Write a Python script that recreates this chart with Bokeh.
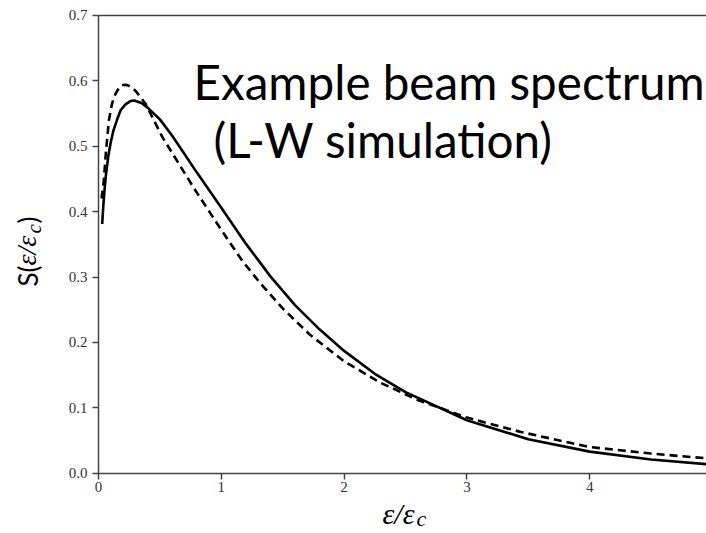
from bokeh.plotting import figure
from bokeh.models import Range1d, FixedTicker, PrintfTickFormatter, Label, LinearAxis
from bokeh.embed import file_html
from bokeh.resources import INLINE
import math

# ---- data ----
solid_x = [0.03, 0.04, 0.05, 0.06, 0.08, 0.10, 0.12, 0.15, 0.18, 0.22, 0.26, 0.29, 0.35,
           0.40, 0.50, 0.60, 0.70, 0.80, 0.90, 1.00, 1.20, 1.40, 1.60, 1.80, 2.00,
           2.25, 2.50, 3.00, 3.50, 4.00, 4.50, 5.00]
solid_y = [0.381, 0.411, 0.435, 0.455, 0.485, 0.506, 0.523, 0.540, 0.555, 0.564, 0.569, 0.570, 0.566,
           0.559, 0.541, 0.516, 0.488, 0.460, 0.433, 0.406, 0.351, 0.301, 0.257, 0.220, 0.187,
           0.152, 0.124, 0.081, 0.052, 0.033, 0.021, 0.013]

dash_x = [0.025, 0.035, 0.043, 0.06, 0.084, 0.11, 0.138, 0.17, 0.19, 0.214, 0.24, 0.27, 0.30,
          0.383, 0.52, 0.78, 1.00, 1.17, 1.32, 1.50, 1.72, 2.00, 2.30, 2.60, 3.00, 3.44,
          4.00, 4.50, 5.00]
dash_y = [0.420, 0.436, 0.447, 0.490, 0.539, 0.565, 0.580, 0.590, 0.593, 0.594, 0.593, 0.590, 0.585,
          0.565, 0.514, 0.435, 0.372, 0.325, 0.290, 0.252, 0.212, 0.171, 0.138, 0.112, 0.085, 0.063,
          0.040, 0.030, 0.022]

y_ticks = [0.0, 0.1, 0.2, 0.3, 0.4, 0.5, 0.6, 0.7]
x_ticks = [0, 1, 2, 3, 4]
x_max = 5.0
y_max = 0.7

title_line1 = "Example beam spectrum"
title_line2 = "(L-W simulation)"

# ---- pixel <-> data mapping (frame covers the whole canvas) ----
W, H = 706, 533
X0, Y0 = 98.0, 472.7      # pixel of data origin
SX, SY = 122.8, 654.0     # pixels per data unit


def dx(px):
    return (px - X0) / SX


def dy(py):
    return (Y0 - py) / SY


p = figure(width=W, height=H, output_backend="svg", toolbar_location=None,
           x_range=Range1d(dx(0), dx(W)), y_range=Range1d(dy(H), dy(0)),
           x_axis_location=None, y_axis_location=None,
           min_border=0, min_border_left=0, min_border_right=0,
           min_border_top=0, min_border_bottom=0)
p.outline_line_color = None
p.grid.visible = False
p.background_fill_color = "white"
p.border_fill_color = "white"

AX_COL = "#444444"


def style_axis(ax):
    ax.axis_line_color = AX_COL
    ax.axis_line_width = 1.5
    ax.major_tick_line_color = AX_COL
    ax.major_tick_line_width = 1.5
    ax.major_tick_in = 0
    ax.major_tick_out = 6
    ax.minor_tick_line_color = None
    ax.major_label_text_font = "Liberation Serif"
    ax.major_label_text_font_size = "15px"
    ax.major_label_text_color = "#333333"


xaxis = LinearAxis(fixed_location=0, bounds=(0, x_max),
                   ticker=FixedTicker(ticks=x_ticks),
                   formatter=PrintfTickFormatter(format="%d"))
style_axis(xaxis)
xaxis.major_label_standoff = 3
p.add_layout(xaxis, "below")

yaxis = LinearAxis(fixed_location=0, bounds=(0, y_max),
                   ticker=FixedTicker(ticks=y_ticks),
                   formatter=PrintfTickFormatter(format="%.1f"))
style_axis(yaxis)
yaxis.major_label_standoff = 5
p.add_layout(yaxis, "left")

# top spine (axis with no ticks / labels)
topaxis = LinearAxis(fixed_location=y_max, bounds=(0, x_max),
                     ticker=FixedTicker(ticks=[]))
topaxis.axis_line_color = AX_COL
topaxis.axis_line_width = 1.5
topaxis.major_label_text_font_size = "0px"
topaxis.minor_tick_line_color = None
topaxis.major_tick_line_color = None
p.add_layout(topaxis, "above")

p.line(solid_x, solid_y, line_color="black", line_width=2.6)
p.line(dash_x, dash_y, line_color="black", line_width=2.6, line_dash="8 5")

# title text
p.add_layout(Label(x=dx(193), y=dy(81), text=title_line1, text_font="Lato",
                   text_font_size="47.6px", text_color="black", text_baseline="alphabetic"))
p.add_layout(Label(x=dx(213), y=dy(139), text=title_line2, text_font="Lato",
                   text_font_size="47.6px", text_color="black", text_baseline="alphabetic"))

# x axis label  ε/ε_c
p.add_layout(Label(x=dx(382), y=dy(513), text="ε/ε", text_font="Liberation Serif",
                   text_font_style="italic", text_font_size="30px", text_color="black",
                   text_baseline="alphabetic"))
p.add_layout(Label(x=dx(416), y=dy(518), text="c", text_font="Liberation Serif",
                   text_font_style="italic", text_font_size="22px", text_color="black",
                   text_baseline="alphabetic"))

# y axis label  S(ε/ε_c), rotated
ang = math.pi / 2
p.add_layout(Label(x=dx(27), y=dy(286), text="S(", text_font="Lato", text_font_size="26px",
                   text_color="black", angle=ang, text_baseline="alphabetic"))
p.add_layout(Label(x=dx(26), y=dy(265), text="ε/ε", text_font="Liberation Serif",
                   text_font_style="italic", text_font_size="28px", text_color="black",
                   angle=ang, text_baseline="alphabetic"))
p.add_layout(Label(x=dx(33), y=dy(233), text="c", text_font="Liberation Serif",
                   text_font_style="italic", text_font_size="21px", text_color="black",
                   angle=ang, text_baseline="alphabetic"))
p.add_layout(Label(x=dx(27), y=dy(223), text=")", text_font="Lato", text_font_size="26px",
                   text_color="black", angle=ang, text_baseline="alphabetic"))

open("out.html", "w").write(file_html(p, INLINE))
